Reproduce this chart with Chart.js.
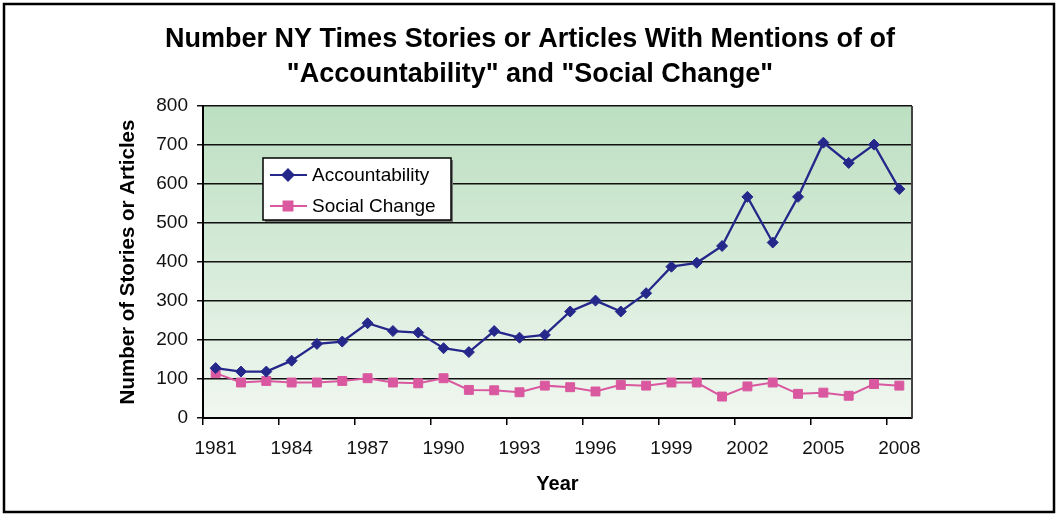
<!DOCTYPE html>
<html>
<head>
<meta charset="utf-8">
<script src="https://cdn.jsdelivr.net/npm/chart.js@4.4.1/dist/chart.umd.min.js"></script>
<style>
  html, body { margin: 0; padding: 0; background: #fff; }
  #chart { display: block; }
</style>
</head>
<body>
<canvas id="chart" width="1057" height="514"></canvas>
<script>
// data
const years = ['1981', '1982', '1983', '1984', '1985', '1986', '1987', '1988', '1989', '1990',
               '1991', '1992', '1993', '1994', '1995', '1996', '1997', '1998', '1999', '2000',
               '2001', '2002', '2003', '2004', '2005', '2006', '2007', '2008'];
const accountability = [128, 119, 119, 147, 190, 196, 243, 223, 219, 179, 169, 223, 206, 213,
                        273, 301, 273, 320, 388, 398, 441, 567, 450, 567, 706, 654, 701, 587];
const socialChange = [115, 91, 95, 91, 91, 95, 102, 91, 89, 102, 72, 71, 66, 83,
                      79, 68, 85, 83, 91, 91, 55, 81, 91, 62, 65, 57, 87, 83];
const seriesNames = ['Accountability', 'Social Change'];
const titleLines = ['Number NY Times Stories or Articles With Mentions of of',
                    '"Accountability" and "Social Change"'];
const yMax = 800;
const yStep = 100;

const FONT = "'Liberation Sans', Arial, Helvetica, sans-serif";
const NAVY = '#25288a';
const PINK = '#d9589f';

// white page, outer frame, green gradient behind the plot
const backdrop = {
    id: 'backdrop',
    beforeDraw(chart) {
        const { ctx, chartArea: a } = chart;
        ctx.save();
        ctx.fillStyle = '#fff';
        ctx.fillRect(0, 0, chart.width, chart.height);
        const g = ctx.createLinearGradient(0, a.top, 0, a.bottom);
        g.addColorStop(0, '#bcdfc1');
        g.addColorStop(1, '#f0f7f0');
        ctx.fillStyle = g;
        ctx.fillRect(a.left, a.top, a.right - a.left, a.bottom - a.top);
        ctx.restore();
    },
    afterDraw(chart) {
        const { ctx, chartArea: a } = chart;
        ctx.save();
        // right edge of plot
        ctx.strokeStyle = '#444';
        ctx.lineWidth = 2;
        ctx.beginPath();
        ctx.moveTo(a.right, a.top);
        ctx.lineTo(a.right, a.bottom);
        ctx.stroke();
        // outer frame
        ctx.strokeStyle = '#000';
        ctx.lineWidth = 2.5;
        ctx.strokeRect(4, 4, chart.width - 7, chart.height - 6);
        // title
        ctx.fillStyle = '#000';
        ctx.font = 'bold 27px ' + FONT;
        ctx.textAlign = 'center';
        ctx.textBaseline = 'alphabetic';
        ctx.fillText(titleLines[0], 530, 47);
        ctx.fillText(titleLines[1], 530, 82);
        ctx.restore();
    }
};

// legend box drawn inside the plot
const boxLegend = {
    id: 'boxLegend',
    afterDraw(chart) {
        const { ctx } = chart;
        const x = 263, y = 158, w = 188, h = 62;
        ctx.save();
        ctx.fillStyle = '#777';
        ctx.fillRect(x + 2, y + 2, w, h);
        ctx.fillStyle = '#fff';
        ctx.fillRect(x, y, w, h);
        ctx.strokeStyle = '#000';
        ctx.lineWidth = 1.5;
        ctx.strokeRect(x, y, w, h);
        chart.data.datasets.forEach((ds, i) => {
            const cy = y + 17 + i * 31;
            ctx.strokeStyle = ds.borderColor;
            ctx.lineWidth = 2;
            ctx.beginPath();
            ctx.moveTo(x + 7, cy);
            ctx.lineTo(x + 44, cy);
            ctx.stroke();
            ctx.fillStyle = ds.backgroundColor;
            Chart.helpers.drawPoint(ctx, {
                pointStyle: ds.pointStyle, radius: ds.pointRadius, rotation: 0, borderWidth: 1
            }, x + 25, cy);
            ctx.fillStyle = '#000';
            ctx.font = '19px ' + FONT;
            ctx.textAlign = 'left';
            ctx.textBaseline = 'middle';
            ctx.fillText(ds.label, x + 49, cy + 1);
        });
        ctx.restore();
    }
};

new Chart(document.getElementById('chart'), {
    type: 'line',
    data: {
        labels: years,
        datasets: [
            {
                label: seriesNames[0],
                data: accountability,
                borderColor: NAVY,
                backgroundColor: NAVY,
                borderWidth: 2.3,
                pointStyle: 'rectRot',
                pointRadius: 5.5,
                pointBorderWidth: 1,
                tension: 0
            },
            {
                label: seriesNames[1],
                data: socialChange,
                borderColor: PINK,
                backgroundColor: PINK,
                borderWidth: 2,
                pointStyle: 'rect',
                pointRadius: 6.3,
                pointBorderWidth: 1,
                tension: 0
            }
        ]
    },
    options: {
        responsive: false,
        animation: false,
        devicePixelRatio: 1,
        layout: { padding: { left: 110, right: 145, top: 106, bottom: 10 } },
        plugins: {
            legend: { display: false },
            title: { display: false },
            tooltip: { enabled: false }
        },
        scales: {
            x: {
                type: 'category',
                offset: true,
                afterFit(scale) { scale.height = 86; },
                grid: {
                    offset: true,
                    drawOnChartArea: false,
                    drawTicks: true,
                    tickLength: 7,
                    lineWidth: 1.5,
                    color: ctx => (ctx.index % 3 === 0 ? '#000' : 'rgba(0,0,0,0)')
                },
                border: { display: true, color: '#000', width: 2 },
                ticks: {
                    autoSkip: false,
                    maxRotation: 0,
                    padding: 12,
                    color: '#111',
                    font: { family: FONT, size: 19 },
                    callback: (v, i) => (i % 3 === 0 ? years[i] : '')
                },
                title: {
                    display: true,
                    text: 'Year',
                    color: '#000',
                    font: { family: FONT, size: 20, weight: 'bold' },
                    padding: { top: 0, bottom: 8 }
                }
            },
            y: {
                min: 0,
                max: yMax,
                afterFit(scale) { scale.width = 93; },
                grid: {
                    color: '#111',
                    lineWidth: 1.5,
                    tickLength: 6
                },
                border: { display: true, color: '#000', width: 2 },
                ticks: {
                    stepSize: yStep,
                    padding: 9,
                    color: '#111',
                    font: { family: FONT, size: 19 }
                },
                title: {
                    display: true,
                    text: 'Number of Stories or Articles',
                    color: '#000',
                    font: { family: FONT, size: 20.5, weight: 'bold' },
                    padding: { top: 6, bottom: 0 }
                }
            }
        }
    },
    plugins: [backdrop, boxLegend]
});
</script>
</body>
</html>
